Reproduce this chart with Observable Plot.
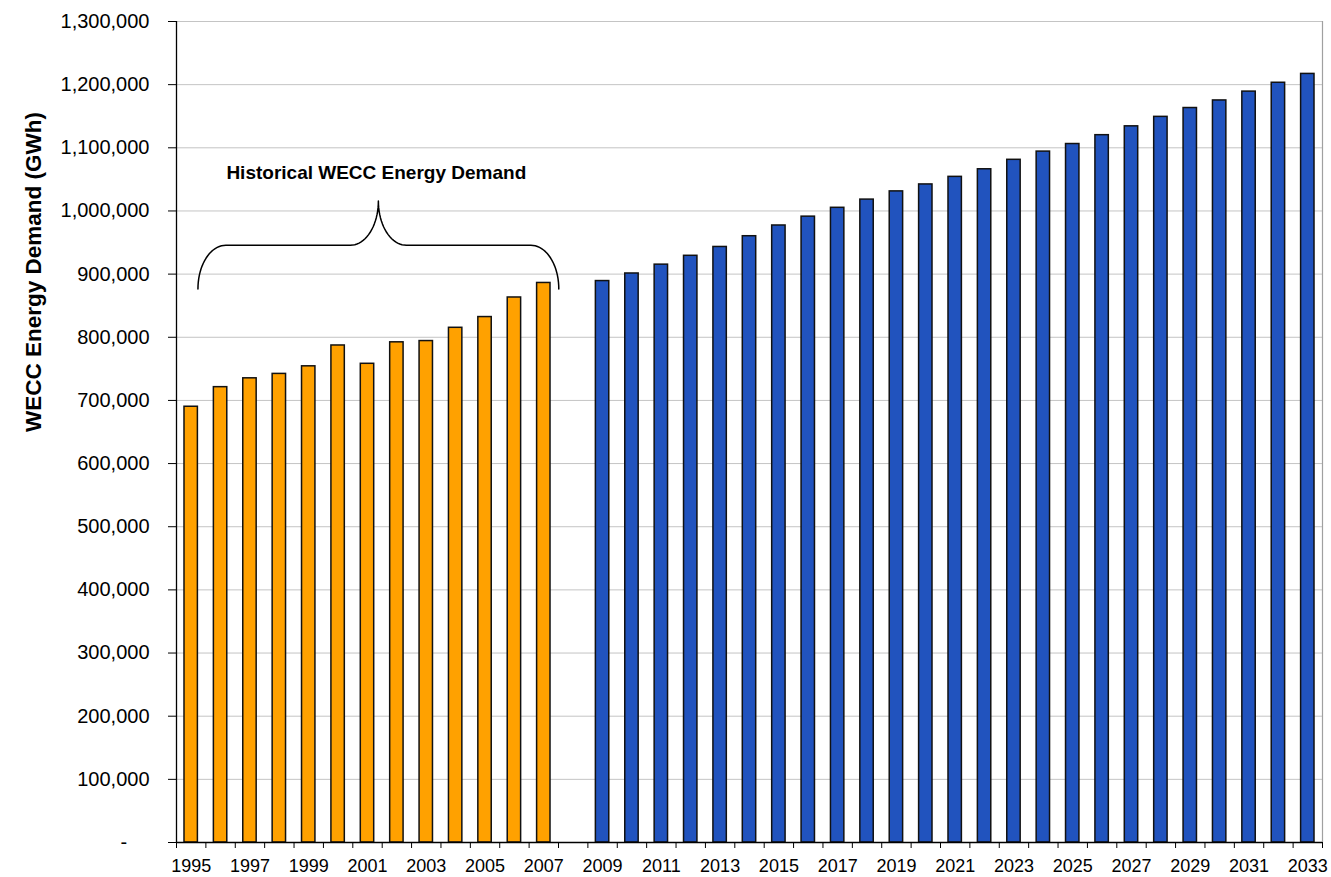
<!DOCTYPE html>
<html>
<head>
<meta charset="utf-8">
<script src="https://cdn.jsdelivr.net/npm/d3@7"></script>
<script src="https://cdn.jsdelivr.net/npm/@observablehq/plot@0.6"></script>
<style>
  html, body { margin: 0; padding: 0; background: #fff; }
  #chart { width: 1331px; height: 877px; }
</style>
</head>
<body>
<div id="chart"></div>
<script>
// ---- Data ----
const historicalYears = [1995, 1996, 1997, 1998, 1999, 2000, 2001, 2002, 2003, 2004, 2005, 2006, 2007];
const historicalDemand = [690000, 721000, 735000, 742000, 754000, 787000, 758000, 792000, 794000, 815000, 832000, 863000, 886000];

const forecastYears = [2009, 2010, 2011, 2012, 2013, 2014, 2015, 2016, 2017, 2018, 2019, 2020, 2021,
  2022, 2023, 2024, 2025, 2026, 2027, 2028, 2029, 2030, 2031, 2032, 2033];
const forecastDemand = [889000, 901000, 915000, 929000, 943000, 960000, 977000, 991000, 1005000, 1018000,
  1031000, 1042000, 1054000, 1066000, 1081000, 1094000, 1106000, 1120000, 1134000, 1149000, 1163000,
  1175000, 1189000, 1203000, 1217000];

const allYears = [1995, 1996, 1997, 1998, 1999, 2000, 2001, 2002, 2003, 2004, 2005, 2006, 2007, 2008,
  2009, 2010, 2011, 2012, 2013, 2014, 2015, 2016, 2017, 2018, 2019, 2020, 2021, 2022, 2023, 2024,
  2025, 2026, 2027, 2028, 2029, 2030, 2031, 2032, 2033];
const xTickLabels = [1995, 1997, 1999, 2001, 2003, 2005, 2007, 2009, 2011, 2013, 2015, 2017, 2019,
  2021, 2023, 2025, 2027, 2029, 2031, 2033];
const yTickValues = [0, 100000, 200000, 300000, 400000, 500000, 600000, 700000, 800000, 900000,
  1000000, 1100000, 1200000, 1300000];

const yAxisLabel = "WECC Energy Demand (GWh)";
const annotationLabel = "Historical WECC Energy Demand";

// ---- Tables built from the arrays ----
const historical = historicalYears.map((year, i) => ({year, demand: historicalDemand[i]}));
const forecast = forecastYears.map((year, i) => ({year, demand: forecastDemand[i]}));
const boundaries = allYears.map(y => y - 0.5).concat([allYears[allYears.length - 1] + 0.5]);

// ---- Brace annotation shape (in data coordinates) ----
const brace = {xL: 1995.23, xC: 2001.37, xR: 2007.51, yEnd: 876600, yMid: 945700, yPeak: 1015800, rx: 0.95};
function bracePath(b) {
  const pts = [];
  const steps = d3.range(0, 21).map(i => (i / 20) * Math.PI / 2);
  for (const t of steps) pts.push({x: b.xL + b.rx - b.rx * Math.cos(t), y: b.yEnd + (b.yMid - b.yEnd) * Math.sin(t)});
  for (const t of steps) pts.push({x: b.xC - b.rx + b.rx * Math.sin(t), y: b.yPeak - (b.yPeak - b.yMid) * Math.cos(t)});
  for (const t of steps) pts.push({x: b.xC + b.rx - b.rx * Math.cos(t), y: b.yPeak - (b.yPeak - b.yMid) * Math.sin(t)});
  for (const t of steps) pts.push({x: b.xR - b.rx + b.rx * Math.sin(t), y: b.yEnd + (b.yMid - b.yEnd) * Math.cos(t)});
  return pts;
}
const bracePoints = bracePath(brace);

const halfBar = 0.228;
const fmt = d3.format(",");

const chart = Plot.plot({
  width: 1331,
  height: 877,
  marginLeft: 176,
  marginRight: 9,
  marginTop: 21,
  marginBottom: 35,
  style: {fontFamily: "'Liberation Sans', Arial, Helvetica, sans-serif", background: "#fff", color: "#000"},
  x: {type: "linear", domain: [1994.5, 2033.5], axis: null},
  y: {domain: [0, 1300000], axis: null},
  marks: [
    Plot.gridY(yTickValues, {stroke: "#c4c4c4", strokeOpacity: 1, strokeWidth: 1}),
    Plot.ruleX([2033.5], {stroke: "#a0a0a0", strokeWidth: 1.2}),
    Plot.rectY(historical, {x1: d => d.year - halfBar, x2: d => d.year + halfBar, y: "demand",
      fill: "#FFA100", stroke: "#111", strokeWidth: 1.5}),
    Plot.rectY(forecast, {x1: d => d.year - halfBar, x2: d => d.year + halfBar, y: "demand",
      fill: "#2153BE", stroke: "#111", strokeWidth: 1.5}),
    Plot.ruleX([1994.5], {stroke: "#000", strokeWidth: 1.3}),
    Plot.ruleY([0], {stroke: "#000", strokeWidth: 1.3}),
    Plot.axisY(yTickValues, {
      anchor: "left", tickSize: 8, tickPadding: 19, fontSize: 20, label: null,
      stroke: "#000",
      tickFormat: d => d === 0 ? "-\u00a0\u00a0\u00a0\u00a0" : fmt(d)
    }),
    Plot.axisX(boundaries, {anchor: "bottom", tickSize: 6, tickFormat: () => "", label: null, stroke: "#000"}),
    Plot.axisX(xTickLabels, {anchor: "bottom", tickSize: 0, tickPadding: 17, fontSize: 18, label: null,
      tickFormat: d => String(d)}),
    Plot.text([yAxisLabel], {frameAnchor: "left", rotate: -90, dx: -143, fontSize: 22.5, fontWeight: "bold", fill: "#000"}),
    Plot.line(bracePoints, {x: "x", y: "y", stroke: "#000", strokeWidth: 1.5}),
    Plot.text([annotationLabel], {x: () => brace.xC - 0.07, y: () => 1060600, fontSize: 19, fontWeight: "bold", fill: "#000"})
  ]
});
document.getElementById("chart").appendChild(chart);
</script>
</body>
</html>
